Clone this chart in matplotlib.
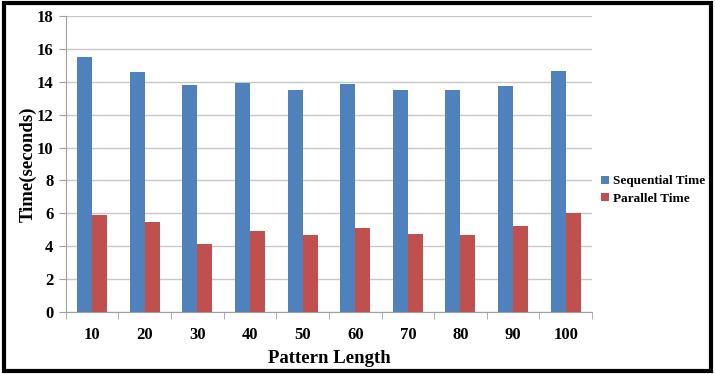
import matplotlib
matplotlib.use("Agg")
import matplotlib.pyplot as plt
import numpy as np
from matplotlib.patches import Rectangle

categories = ["10", "20", "30", "40", "50", "60", "70", "80", "90", "100"]
sequential = [15.5, 14.6, 13.8, 13.95, 13.5, 13.85, 13.5, 13.52, 13.77, 14.68]
parallel = [5.9, 5.49, 4.15, 4.94, 4.66, 5.13, 4.77, 4.71, 5.21, 6.04]
series_names = ["Sequential Time", "Parallel Time"]

plt.rcParams['font.family'] = ['Liberation Serif', 'DejaVu Serif']
plt.rcParams['font.weight'] = 'bold'

fig = plt.figure(figsize=(7.15, 3.74), dpi=100)
ax = fig.add_axes([0.092, 0.166, 0.736, 0.791])

x = np.arange(len(categories))
w = 0.285
ax.bar(x - w/2, sequential, w, color='#4F81BD', label=series_names[0], zorder=3)
ax.bar(x + w/2, parallel, w, color='#C0504D', label=series_names[1], zorder=3)

ax.set_xlim(-0.5, len(categories) - 0.5)
ax.set_ylim(0, 18)
ax.set_yticks(np.arange(0, 19, 2))
ax.set_xticks(x)
ax.set_xticklabels(categories)
ax.set_xticks(np.arange(-0.5, len(categories), 1), minor=True)
ax.tick_params(axis='x', which='major', length=0, pad=11, labelsize=12)
ax.tick_params(axis='x', which='minor', length=5, color='#A0A0A0', direction='out')
ax.tick_params(axis='y', length=5, color='#A0A0A0', labelsize=12, pad=4)
for lab in ax.get_xticklabels() + ax.get_yticklabels():
    lab.set_fontweight('bold')

ax.grid(axis='y', color='#C8C8C8', linewidth=1, zorder=0)
for s in ['top', 'right']:
    ax.spines[s].set_visible(False)
ax.spines['left'].set_color('#A0A0A0')
ax.spines['bottom'].set_color('#A0A0A0')

ax.set_xlabel('Pattern Length', fontsize=13.5, fontweight='bold', labelpad=5)
ax.set_ylabel('Time(seconds)', fontsize=13.5, fontweight='bold', labelpad=0)

leg = fig.legend(loc='upper left', bbox_to_anchor=(0.833, 0.545), frameon=False,
                 fontsize=9.5, handlelength=0.6, handleheight=0.6, handletextpad=0.3,
                 labelspacing=0.4, borderaxespad=0)
for t in leg.get_texts():
    t.set_fontweight('bold')

fig.patches.append(Rectangle((0.006, 0.008), 0.988, 0.984, transform=fig.transFigure,
                             fill=False, edgecolor='black', linewidth=3))

fig.savefig('out.png', dpi=100)
